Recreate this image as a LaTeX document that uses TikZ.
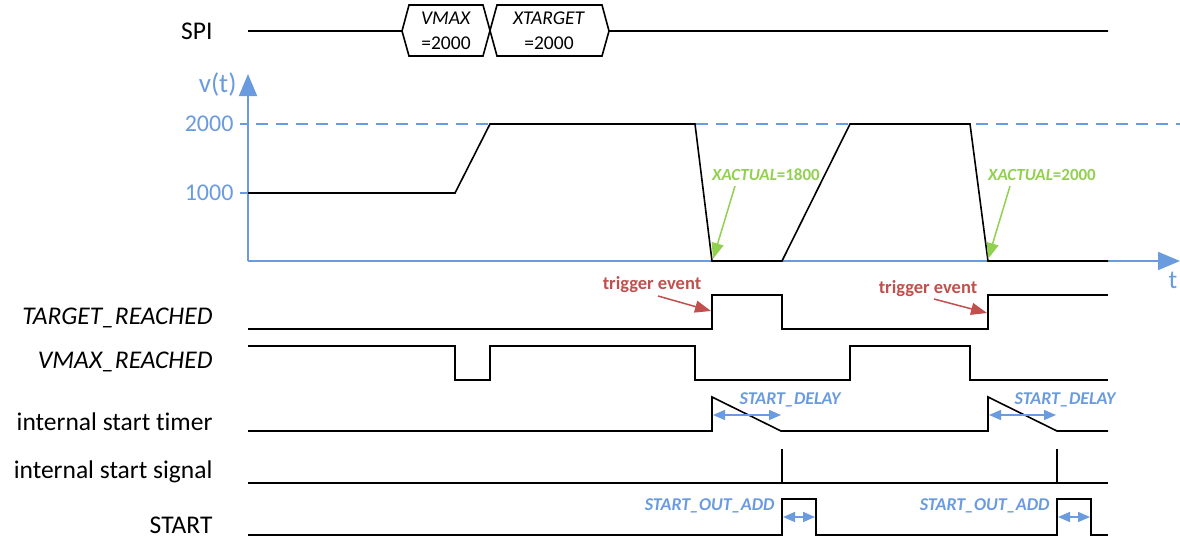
\documentclass[tikz,border=0pt]{standalone}
\usepackage{fontspec}
\setmainfont{Carlito}[Ligatures=NoCommon]
\usetikzlibrary{arrows.meta}

\definecolor{axisblue}{RGB}{106,155,222}
\definecolor{xgreen}{RGB}{146,208,80}
\definecolor{trigred}{RGB}{192,80,77}

\begin{document}
\begin{tikzpicture}[x=1pt,y=-1pt,
        sig/.style={line width=1.6pt, black, line join=miter},
        axis/.style={line width=1.8pt, axisblue, -{Triangle[length=22pt,width=18pt]}},
        lbl/.style={anchor=east, font=\fontsize{25.5}{28}\selectfont},
        vlbl/.style={anchor=east, text=axisblue, font=\fontsize{24}{26}\selectfont},
        boxtxt/.style={align=center, font=\fontsize{19.5}{25}\selectfont},
        xact/.style={text=xgreen, font=\bfseries\fontsize{17}{20}\selectfont},
        trig/.style={text=trigred, font=\bfseries\fontsize{18.5}{20}\selectfont},
        delay/.style={text=axisblue, font=\bfseries\itshape\fontsize{18}{20}\selectfont},
        greenarrow/.style={line width=1.5pt, xgreen, -{Triangle[length=16pt,width=12pt]}},
        redarrow/.style={line width=1.5pt, trigred, -{Triangle[length=16pt,width=12pt]}},
        dblarrow/.style={line width=1.5pt, axisblue, {Triangle[length=12pt,width=10pt]}-{Triangle[length=12pt,width=10pt]}}]
        \useasboundingbox (0,0) rectangle (1180,539);

        % signal names
        \node[lbl] (spi) at (216,31) {SPI};
        \node[lbl] (treached) at (216,318) {\textit{TARGET\_REACHED}};
        \node[lbl] (vreached) at (216,362) {\textit{VMAX\_REACHED}};
        \node[lbl] (timer) at (216,422) {internal start timer};
        \node[lbl] (signal) at (216,472) {internal start signal};
        \node[lbl] (start) at (216,525) {START};

        % SPI bus
        \draw[sig] (248,31) -- (402,31) -- (409,5) -- (483,5) -- (497,56) -- (602,56) -- (609,31) -- (1108,31);
        \draw[sig] (402,31) -- (409,56) -- (483,56) -- (497,5) -- (602,5) -- (609,31);
        \node[boxtxt] (vmaxbox) at (446,31) {\textit{VMAX}\\=2000};
        \node[boxtxt] (xtargetbox) at (549,31) {\textit{XTARGET}\\=2000};

        % velocity axes
        \coordinate (origin) at (248,261);
        \coordinate (vtop) at (248,74);
        \coordinate (tend) at (1180,261);
        \draw[axisblue, line width=1.8pt, dash pattern=on 12pt off 8pt] (256,124) -- (1180,124);
        \draw[axisblue, line width=1.8pt] (240,124) -- (248,124);
        \draw[axisblue, line width=1.8pt] (240,193) -- (248,193);
        \draw[axis] (origin) -- (vtop);
        \draw[axis] (origin) -- (tend);
        \node[vlbl, font=\fontsize{27}{28}\selectfont] (vt) at (240,84) {v(t)};
        \node[vlbl] (v2000) at (237,124) {2000};
        \node[vlbl] (v1000) at (237,193) {1000};
        \node[text=axisblue, font=\fontsize{26}{28}\selectfont] (tl) at (1173,280) {t};

        % velocity
        \draw[sig] (248,193) -- (455,193) -- (490,124) -- (695,124) -- (712,261) -- (782,261)
                -- (850,124) -- (970,124) -- (988,261) -- (1108,261);
        \node[xact] (xa1) at (766,175) {\textit{XACTUAL}=1800};
        \node[xact] (xa2) at (1042,175) {\textit{XACTUAL}=2000};
        \coordinate (stop1) at (713,259);
        \coordinate (stop2) at (988,259);
        \coordinate (xa1tail) at (735,186);
        \coordinate (xa2tail) at (1010,186);
        \draw[greenarrow] (xa1tail) -- (stop1);
        \draw[greenarrow] (xa2tail) -- (stop2);

        % TARGET_REACHED
        \draw[sig] (248,329) -- (712,329) -- (712,295) -- (782,295) -- (782,329) -- (988,329)
                -- (988,295) -- (1108,295);
        \node[trig] (trig1) at (652,285) {trigger event};
        \node[trig] (trig2) at (928,289) {trigger event};
        \coordinate (edge1) at (711,311);
        \coordinate (edge2) at (987,313);
        \coordinate (trig1tail) at (658,296);
        \coordinate (trig2tail) at (934,299);
        \draw[redarrow] (trig1tail) -- (edge1);
        \draw[redarrow] (trig2tail) -- (edge2);

        % VMAX_REACHED
        \draw[sig] (248,346) -- (455,346) -- (455,380) -- (490,380) -- (490,346) -- (695,346)
                -- (695,380) -- (850,380) -- (850,346) -- (970,346) -- (970,380) -- (1108,380);

        % internal start timer
        \draw[sig] (248,431) -- (712,431) -- (712,397) -- (781,431) -- (988,431) -- (988,397)
                -- (1057,431) -- (1108,431);
        \coordinate (d1a) at (713,415);
        \coordinate (d1b) at (781,415);
        \coordinate (d2a) at (989,415);
        \coordinate (d2b) at (1056,415);
        \draw[dblarrow] (d1a) -- (d1b);
        \draw[dblarrow] (d2a) -- (d2b);
        \node[delay] (dl1) at (790,400) {START\_DELAY};
        \node[delay] (dl2) at (1065,400) {START\_DELAY};

        % internal start signal
        \draw[sig] (248,483) -- (1108,483);
        \draw[sig] (782,449) -- (782,483);
        \draw[sig] (1057,449) -- (1057,483);

        % START
        \draw[sig] (248,535) -- (782,535) -- (782,499) -- (816,499) -- (816,535) -- (1057,535)
                -- (1057,499) -- (1091,499) -- (1091,535) -- (1108,535);
        \coordinate (o1a) at (783,517);
        \coordinate (o1b) at (815,517);
        \coordinate (o2a) at (1058,517);
        \coordinate (o2b) at (1090,517);
        \draw[dblarrow] (o1a) -- (o1b);
        \draw[dblarrow] (o2a) -- (o2b);
        \node[delay, anchor=east] (oa1) at (778,506) {START\_OUT\_ADD};
        \node[delay, anchor=east] (oa2) at (1053,506) {START\_OUT\_ADD};
\end{tikzpicture}
\end{document}
